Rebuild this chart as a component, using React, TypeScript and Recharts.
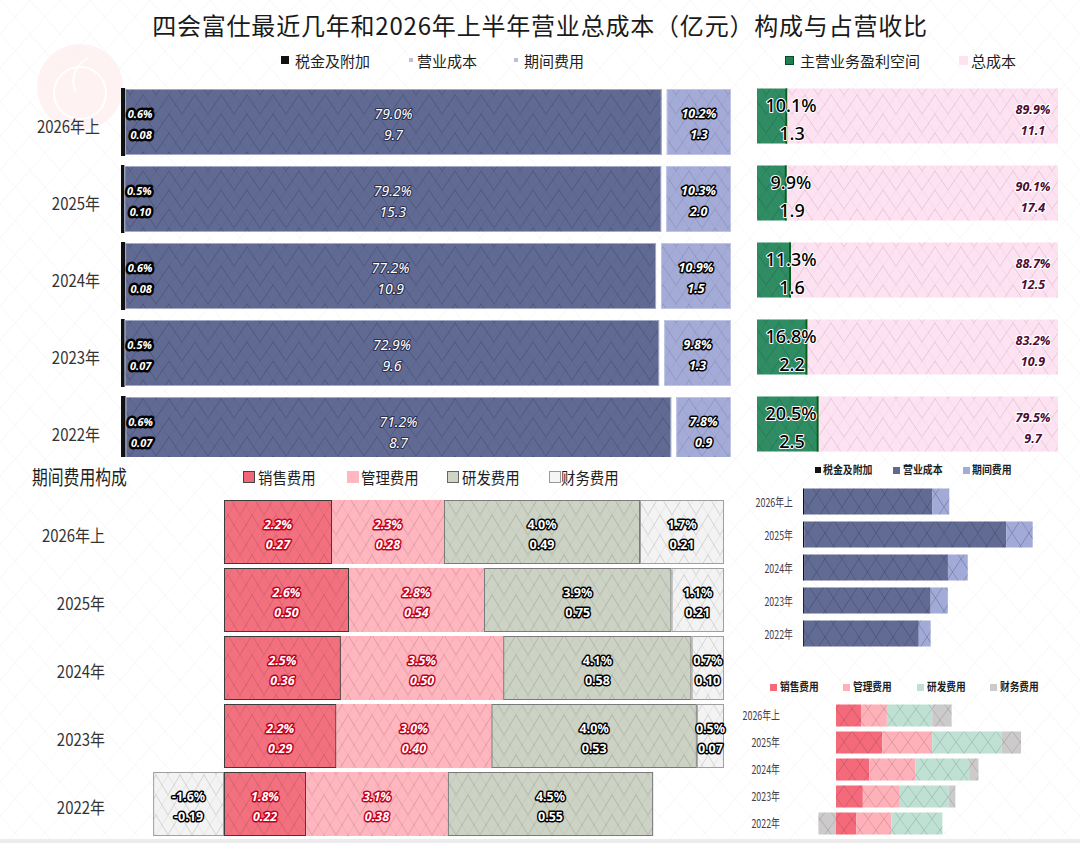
import React from 'react';
import { BarChart, Bar, XAxis, YAxis } from 'recharts';

// ---------- data ----------
const years = ['2026年上', '2025年', '2024年', '2023年', '2022年'];

// 营业总成本构成（占营收比 %）
const taxPct = [0.6, 0.5, 0.6, 0.5, 0.6];
const opCostPct = [79.0, 79.2, 77.2, 72.9, 71.2];
const periodPct = [10.2, 10.3, 10.9, 9.8, 7.8];
// 金额（亿元）
const taxAmt = [0.08, 0.1, 0.08, 0.07, 0.07];
const opCostAmt = [9.7, 15.3, 10.9, 9.6, 8.7];
const periodAmt = [1.3, 2.0, 1.5, 1.3, 0.9];

// 主营业务盈利空间 / 总成本
const profitPct = [10.1, 9.9, 11.3, 16.8, 20.5];
const profitAmt = [1.3, 1.9, 1.6, 2.2, 2.5];
const totalCostPct = [89.9, 90.1, 88.7, 83.2, 79.5];
const totalCostAmt = [11.1, 17.4, 12.5, 10.9, 9.7];

// 期间费用构成
const salesPct = [2.2, 2.6, 2.5, 2.2, 1.8];
const adminPct = [2.3, 2.8, 3.5, 3.0, 3.1];
const rdPct = [4.0, 3.9, 4.1, 4.0, 4.5];
const finPct = [1.7, 1.1, 0.7, 0.5, -1.6];
const salesAmt = [0.27, 0.5, 0.36, 0.29, 0.22];
const adminAmt = [0.28, 0.54, 0.5, 0.4, 0.38];
const rdAmt = [0.49, 0.75, 0.58, 0.53, 0.55];
const finAmt = [0.21, 0.21, 0.1, 0.07, -0.19];

// ---------- derived tables ----------
const topData = years.map((year, i) => {
  const s = taxPct[i] + opCostPct[i] + periodPct[i];
  return { year, i, tax: taxPct[i] / s, op: opCostPct[i] / s, period: periodPct[i] / s };
});
const marginData = years.map((year, i) => ({ year, i, profit: profitPct[i], cost: totalCostPct[i] }));
const periodData = years.map((year, i) => {
  const s = Math.abs(salesAmt[i]) + Math.abs(adminAmt[i]) + Math.abs(rdAmt[i]) + Math.abs(finAmt[i]);
  return { year, i, sales: salesAmt[i] / s, admin: adminAmt[i] / s, rd: rdAmt[i] / s, fin: finAmt[i] / s };
});
const smallCostData = years.map((year, i) => ({ year, i, tax: taxAmt[i], op: opCostAmt[i], period: periodAmt[i] }));
const smallPeriodData = years.map((year, i) => ({ year, i, sales: salesAmt[i], admin: adminAmt[i], rd: rdAmt[i], fin: finAmt[i] }));

// ---------- styles ----------
const CJK = '"Noto Sans CJK SC", "Noto Sans", sans-serif';
const NUM = '"Noto Sans", "DejaVu Sans", sans-serif';

type TO = { size: number; fill: string; stroke?: string; sw?: number; bold?: boolean; italic?: boolean; weight?: number };
const txt = (x: number, y: number, s: string, o: TO, key?: string) => (
  <text
    key={key}
    x={x}
    y={y}
    textAnchor="middle"
    dominantBaseline="central"
    fontFamily={NUM}
    fontSize={o.size}
    fontWeight={o.weight ? o.weight : o.bold ? 700 : 400}
    fontStyle={o.italic ? 'italic' : 'normal'}
    fill={o.fill}
    stroke={o.stroke || 'none'}
    strokeWidth={o.sw || 0}
    strokeLinejoin="round"
    paintOrder="stroke"
  >
    {s}
  </text>
);

const norm = (p: any) => {
  let { x, y, width, height } = p;
  if (width < 0) { x += width; width = -width; }
  if (height < 0) { y += height; height = -height; }
  const i = p.payload && p.payload.i != null ? p.payload.i : p.index;
  return { x, y, width, height, i };
};

const pct = (v: number) => v.toFixed(1) + '%';

// ---------- top-left shapes ----------
const TaxShape = (p: any) => {
  const { x, y, width, height } = norm(p);
  return <rect x={x} y={y - 1} width={Math.max(width, 3)} height={height + 2} fill="#111" />;
};
const OpShape = (p: any) => {
  const { x, y, width, height, i } = norm(p);
  const cx = x + width / 2;
  const cy = y + height / 2;
  const tl: TO = { size: 11, fill: '#fff', stroke: '#000', sw: 5, bold: true, italic: true };
  const ol: TO = { size: 14, fill: '#fff', stroke: '#2b3050', sw: 2.2, italic: true };
  return (
    <g>
      <rect x={x} y={y} width={width} height={height} fill="#606a93" />
      <rect x={x} y={y} width={width} height={height} fill="url(#zTop)" />
      <rect x={x + 0.5} y={y + 0.5} width={width - 1} height={height - 1} fill="none" stroke="rgba(220,224,240,0.55)" />
      {txt(x + 15, cy - 9, pct(taxPct[i]), tl, 'a')}
      {txt(x + 16, cy + 12, taxAmt[i].toFixed(2), tl, 'b')}
      {txt(cx, cy - 9, pct(opCostPct[i]), ol, 'c')}
      {txt(cx, cy + 12, opCostAmt[i].toFixed(1), ol, 'd')}
    </g>
  );
};
const PeriodShape = (p: any) => {
  const { x, y, width, height, i } = norm(p);
  const gx = x + 5;
  const gw = width - 5;
  const cx = gx + gw / 2;
  const cy = y + height / 2;
  const l: TO = { size: 12.5, fill: '#fff', stroke: '#000', sw: 3, bold: true, italic: true };
  return (
    <g>
      <rect x={gx} y={y} width={gw} height={height} fill="#a3abd6" />
      <rect x={gx} y={y} width={gw} height={height} fill="url(#zTopL)" />
      <rect x={gx + 0.5} y={y + 0.5} width={gw - 1} height={height - 1} fill="none" stroke="rgba(200,205,235,0.8)" />
      {txt(cx, cy - 9, pct(periodPct[i]), l, 'a')}
      {txt(cx, cy + 12, periodAmt[i].toFixed(1), l, 'b')}
    </g>
  );
};

// ---------- top-right shapes ----------
const B_LEFT = 17;
const B_RIGHT = 318;
const GreenShape = (p: any) => {
  const { x, y, width, height } = norm(p);
  return (
    <g>
      <rect x={x} y={y} width={width} height={height} fill="#2f8c63" />
      <rect x={x} y={y} width={width} height={height} fill="url(#zGreen)" />
      <line x1={x + width - 1} y1={y} x2={x + width - 1} y2={y + height} stroke="#0a5c1c" strokeWidth={2} />
    </g>
  );
};
const PinkShape = (p: any) => {
  const { x, y, width, height, i } = norm(p);
  const cy = y + height / 2;
  const pl: TO = { size: 12.5, fill: '#4d0a33', stroke: '#fff', sw: 2.5, bold: true, italic: true };
  const gl: TO = { size: 18, fill: '#000', stroke: '#fff', sw: 2, weight: 500 };
  const gx = B_LEFT + 34;
  return (
    <g>
      <rect x={x} y={y} width={width} height={height} fill="#fde2f1" />
      <rect x={x} y={y} width={width} height={height} fill="url(#zPink)" />
      {txt(B_RIGHT - 25, cy - 6.5, pct(totalCostPct[i]), pl, 'a')}
      {txt(B_RIGHT - 25, cy + 14.5, totalCostAmt[i].toFixed(1), pl, 'b')}
      {txt(gx, cy - 11.5, pct(profitPct[i]), gl, 'c')}
      {txt(gx + 1, cy + 16.5, profitAmt[i].toFixed(1), gl, 'd')}
    </g>
  );
};

// ---------- period breakdown shapes ----------
const redL: TO = { size: 12.5, fill: '#fff', stroke: '#c3001c', sw: 3, bold: true, italic: true };
const blkL: TO = { size: 12.5, fill: '#fff', stroke: '#000', sw: 3, bold: true };
const segShape = (fill: string, stroke: string | null, pcts: number[], amts: number[], lo: TO) => (p: any) => {
  const { x, y, width, height, i } = norm(p);
  const cx = x + width / 2;
  const cy = y + height / 2;
  return (
    <g>
      <rect x={x} y={y} width={width} height={height} fill={fill} />
      <rect x={x} y={y} width={width} height={height} fill="url(#zMid)" />
      {stroke && <rect x={x + 0.5} y={y + 0.5} width={width - 1} height={height - 1} fill="none" stroke={stroke} strokeWidth={1} />}
      {txt(cx, cy - 8, pct(pcts[i]), lo, 'a')}
      {txt(cx, cy + 12, amts[i].toFixed(2), lo, 'b')}
    </g>
  );
};
const SalesShape = segShape('#f3707f', '#3c3c3c', salesPct, salesAmt, redL);
const AdminShape = segShape('#ffb6bf', null, adminPct, adminAmt, redL);
const RdShape = segShape('#ccd3c4', '#7a7a7a', rdPct, rdAmt, blkL);
const FinShape = segShape('#f3f3f3', '#a0a0a0', finPct, finAmt, blkL);

// ---------- small chart shapes ----------
const plainShape = (fill: string, pat: string) => (p: any) => {
  const { x, y, width, height } = norm(p);
  if (width <= 0) return <g />;
  return (
    <g>
      <rect x={x} y={y} width={width} height={height} fill={fill} />
      <rect x={x} y={y} width={width} height={height} fill={`url(#${pat})`} />
    </g>
  );
};

// ---------- ticks ----------
const makeTick = (rx: number, size: number, sx: number, color: string, dy: number) => (props: any) => {
  const { y, payload } = props;
  return (
    <text
      transform={`translate(${rx},${y + dy}) scale(${sx},1)`}
      textAnchor="end"
      dominantBaseline="central"
      fontSize={size}
      fill={color}
      fontFamily={CJK}
    >
      {payload.value}
    </text>
  );
};
const TickTop = makeTick(100, 17, 0.88, '#333', 4);
const TickMid = makeTick(105, 17, 0.88, '#333', 3);
const TickSmallA = makeTick(53, 12, 0.74, '#463d4a', 1);
const TickSmallB = makeTick(40, 12, 0.74, '#463d4a', 0);

// ---------- legends ----------
const Lg = ({ left, top, size, text, sx = 1, bold = false }: any) => (
  <div
    style={{
      position: 'absolute',
      left,
      top: top - size * 0.7,
      height: size * 1.4,
      lineHeight: `${size * 1.4}px`,
      fontSize: size,
      whiteSpace: 'nowrap',
      color: '#1e1e1e',
      fontWeight: bold ? 700 : 400,
      transform: `scaleX(${sx})`,
      transformOrigin: 'left center',
    }}
  >
    {text}
  </div>
);
const Mk = ({ left, cy, size, fill, border }: any) => (
  <div
    style={{
      position: 'absolute',
      left,
      top: cy - size / 2,
      width: size,
      height: size,
      background: fill,
      boxSizing: 'border-box',
      border: border ? `1px solid ${border}` : 'none',
    }}
  />
);

const zig = (id: string, w: number, h: number, c1: string, c2: string) => (
  <pattern id={id} width={w} height={h} patternUnits="userSpaceOnUse" key={id}>
    <path d={`M0,${h} L${w / 2},0 L${w},${h}`} fill="none" stroke={c1} strokeWidth={1} />
    <path d={`M0,0 L${w / 2},${h} L${w},0`} fill="none" stroke={c2} strokeWidth={1} />
  </pattern>
);

export default function App() {
  return (
    <div
      style={{
        position: 'absolute',
        left: 0,
        top: 0,
        width: 1080,
        height: 843,
        background: '#fff',
        overflow: 'hidden',
        fontFamily: CJK,
      }}
    >
      <svg width={1080} height={843} style={{ position: 'absolute', left: 0, top: 0 }}>
        <defs>
          {zig('zBg', 60, 34, '#f6f6f6', '#f9f9f9')}
          {zig('zTop', 26, 19, 'rgba(20,25,50,0.22)', 'rgba(20,25,50,0.07)')}
          {zig('zTopL', 26, 19, 'rgba(40,45,90,0.16)', 'rgba(40,45,90,0.06)')}
          {zig('zGreen', 26, 19, 'rgba(0,40,20,0.18)', 'rgba(0,40,20,0.06)')}
          {zig('zPink', 26, 19, 'rgba(160,90,130,0.20)', 'rgba(160,90,130,0.07)')}
          {zig('zMid', 24, 20, 'rgba(0,0,0,0.13)', 'rgba(0,0,0,0.05)')}
          {zig('zSmall', 34, 26, 'rgba(20,25,50,0.25)', 'rgba(20,25,50,0.2)')}
          {zig('zSmallB', 32, 22, 'rgba(0,0,0,0.14)', 'rgba(0,0,0,0.11)')}
        </defs>
        <rect width={1080} height={843} fill="url(#zBg)" />
        <circle cx={80} cy={87} r={43} fill="#fdeeee" opacity={0.75} />
        <circle cx={80} cy={93} r={26} fill="none" stroke="#fff" strokeWidth={2} />
        <path d="M88,58 C74,66 70,80 76,92" fill="none" stroke="#fff" strokeWidth={2} />
        <rect x={0} y={839} width={1080} height={4} fill="#ececec" />
      </svg>

      {/* title */}
      <div
        style={{
          position: 'absolute',
          left: 0,
          top: 8,
          width: 1080,
          textAlign: 'center',
          fontSize: 24,
          lineHeight: '34px',
          letterSpacing: 0.8,
          color: '#1a1a1a',
          whiteSpace: 'nowrap',
        }}
      >
        四会富仕最近几年和2026年上半年营业总成本（亿元）构成与占营收比
      </div>

      {/* top legends */}
      <Mk left={281} cy={60} size={8} fill="#111" />
      <Lg left={295} top={60} size={15} text="税金及附加" />
      <Mk left={409} cy={60} size={4} fill="#bcc0e0" />
      <Lg left={417} top={60} size={15} text="营业成本" />
      <Mk left={514} cy={60} size={4} fill="#bcc0e0" />
      <Lg left={524} top={60} size={15} text="期间费用" />
      <Mk left={785} cy={60} size={9} fill="#1d8050" border="#0b4a28" />
      <Lg left={800} top={60} size={15} text="主营业务盈利空间" />
      <Mk left={959} cy={60} size={9} fill="#fde3f0" />
      <Lg left={971} top={60} size={15} text="总成本" />

      {/* top-left chart */}
      <div style={{ position: 'absolute', left: 0, top: 0, width: 740, height: 457, overflow: 'hidden' }}>
        <BarChart width={740} height={480} data={topData} layout="vertical" margin={{ top: 83, right: 9, bottom: 12, left: 0 }}>
          <XAxis type="number" hide domain={[0, 1]} />
          <YAxis type="category" dataKey="year" width={121} axisLine={false} tickLine={false} interval={0} tick={TickTop} />
          <Bar dataKey="tax" stackId="s" barSize={66} shape={TaxShape} isAnimationActive={false} />
          <Bar dataKey="op" stackId="s" barSize={66} shape={OpShape} isAnimationActive={false} />
          <Bar dataKey="period" stackId="s" barSize={66} shape={PeriodShape} isAnimationActive={false} />
        </BarChart>
      </div>

      {/* top-right chart */}
      <div style={{ position: 'absolute', left: 740, top: 0, width: 340, height: 457, overflow: 'hidden' }}>
        <BarChart width={340} height={480} data={marginData} layout="vertical" margin={{ top: 77.5, right: 22, bottom: 17.5, left: B_LEFT }}>
          <XAxis type="number" hide domain={[0, 100]} />
          <YAxis type="category" dataKey="year" hide />
          <Bar dataKey="profit" stackId="s" barSize={55} shape={GreenShape} isAnimationActive={false} />
          <Bar dataKey="cost" stackId="s" barSize={55} shape={PinkShape} isAnimationActive={false} />
        </BarChart>
      </div>

      {/* bottom-left title & legend */}
      <Lg left={32} top={477} size={20} sx={0.79} text="期间费用构成" />
      <Mk left={243} cy={477} size={12} fill="#f06878" border="#444" />
      <Lg left={258} top={477} size={16} sx={0.9} text="销售费用" />
      <Mk left={347} cy={477} size={12} fill="#ffb8c0" />
      <Lg left={361} top={477} size={16} sx={0.9} text="管理费用" />
      <Mk left={447} cy={477} size={12} fill="#cdd5c5" border="#666" />
      <Lg left={462} top={477} size={16} sx={0.9} text="研发费用" />
      <Mk left={549} cy={477} size={12} fill="#f5f5f5" border="#999" />
      <Lg left={561} top={477} size={16} sx={0.9} text="财务费用" />

      {/* bottom-left chart */}
      <div style={{ position: 'absolute', left: 0, top: 455 }}>
        <BarChart
          width={740}
          height={388}
          data={periodData}
          layout="vertical"
          stackOffset="sign"
          margin={{ top: 43, right: 16, bottom: 5, left: 0 }}
        >
          <XAxis type="number" hide domain={[-0.146, 1]} />
          <YAxis type="category" dataKey="year" width={151} axisLine={false} tickLine={false} interval={0} tick={TickMid} />
          <Bar dataKey="sales" stackId="s" barSize={64} shape={SalesShape} isAnimationActive={false} />
          <Bar dataKey="admin" stackId="s" barSize={64} shape={AdminShape} isAnimationActive={false} />
          <Bar dataKey="rd" stackId="s" barSize={64} shape={RdShape} isAnimationActive={false} />
          <Bar dataKey="fin" stackId="s" barSize={64} shape={FinShape} isAnimationActive={false} />
        </BarChart>
      </div>

      {/* small chart A legend */}
      <Mk left={815} cy={470} size={6} fill="#111" />
      <Lg left={823} top={470} size={11} sx={0.9} bold text="税金及附加" />
      <Mk left={893} cy={470} size={7} fill="#5f6890" />
      <Lg left={903} top={470} size={11} sx={0.9} bold text="营业成本" />
      <Mk left={963} cy={470} size={7} fill="#a3abd6" />
      <Lg left={972} top={470} size={11} sx={0.9} bold text="期间费用" />

      <div style={{ position: 'absolute', left: 740, top: 455 }}>
        <BarChart width={340} height={200} data={smallCostData} layout="vertical" margin={{ top: 29.5, right: 13, bottom: 5.5, left: 0 }}>
          <XAxis type="number" hide domain={[0, 20]} />
          <YAxis type="category" dataKey="year" width={63} axisLine={false} tickLine={false} interval={0} tick={TickSmallA} />
          <Bar dataKey="tax" stackId="s" barSize={26} shape={plainShape('#111', 'zSmall')} isAnimationActive={false} />
          <Bar dataKey="op" stackId="s" barSize={26} shape={plainShape('#626b93', 'zSmall')} isAnimationActive={false} />
          <Bar dataKey="period" stackId="s" barSize={26} shape={plainShape('#a2aad7', 'zSmall')} isAnimationActive={false} />
        </BarChart>
      </div>

      {/* small chart B legend */}
      <Mk left={770} cy={687} size={7} fill="#f46a7a" />
      <Lg left={780} top={687} size={11} sx={0.88} bold text="销售费用" />
      <Mk left={843} cy={687} size={7} fill="#ffb1b9" />
      <Lg left={853} top={687} size={11} sx={0.88} bold text="管理费用" />
      <Mk left={917} cy={687} size={7} fill="#bfe1d3" />
      <Lg left={927} top={687} size={11} sx={0.88} bold text="研发费用" />
      <Mk left={990} cy={687} size={7} fill="#cccacb" />
      <Lg left={1000} top={687} size={11} sx={0.88} bold text="财务费用" />

      <div style={{ position: 'absolute', left: 740, top: 665 }}>
        <BarChart
          width={340}
          height={178}
          data={smallPeriodData}
          layout="vertical"
          stackOffset="sign"
          margin={{ top: 36.5, right: 40.5, bottom: 6.5, left: 0 }}
        >
          <XAxis type="number" hide domain={[-0.4, 2.2]} />
          <YAxis type="category" dataKey="year" width={59} axisLine={false} tickLine={false} interval={0} tick={TickSmallB} />
          <Bar dataKey="sales" stackId="s" barSize={22} shape={plainShape('#f46a7a', 'zSmallB')} isAnimationActive={false} />
          <Bar dataKey="admin" stackId="s" barSize={22} shape={plainShape('#ffb1b9', 'zSmallB')} isAnimationActive={false} />
          <Bar dataKey="rd" stackId="s" barSize={22} shape={plainShape('#bfe1d3', 'zSmallB')} isAnimationActive={false} />
          <Bar dataKey="fin" stackId="s" barSize={22} shape={plainShape('#cccacb', 'zSmallB')} isAnimationActive={false} />
        </BarChart>
      </div>
    </div>
  );
}
